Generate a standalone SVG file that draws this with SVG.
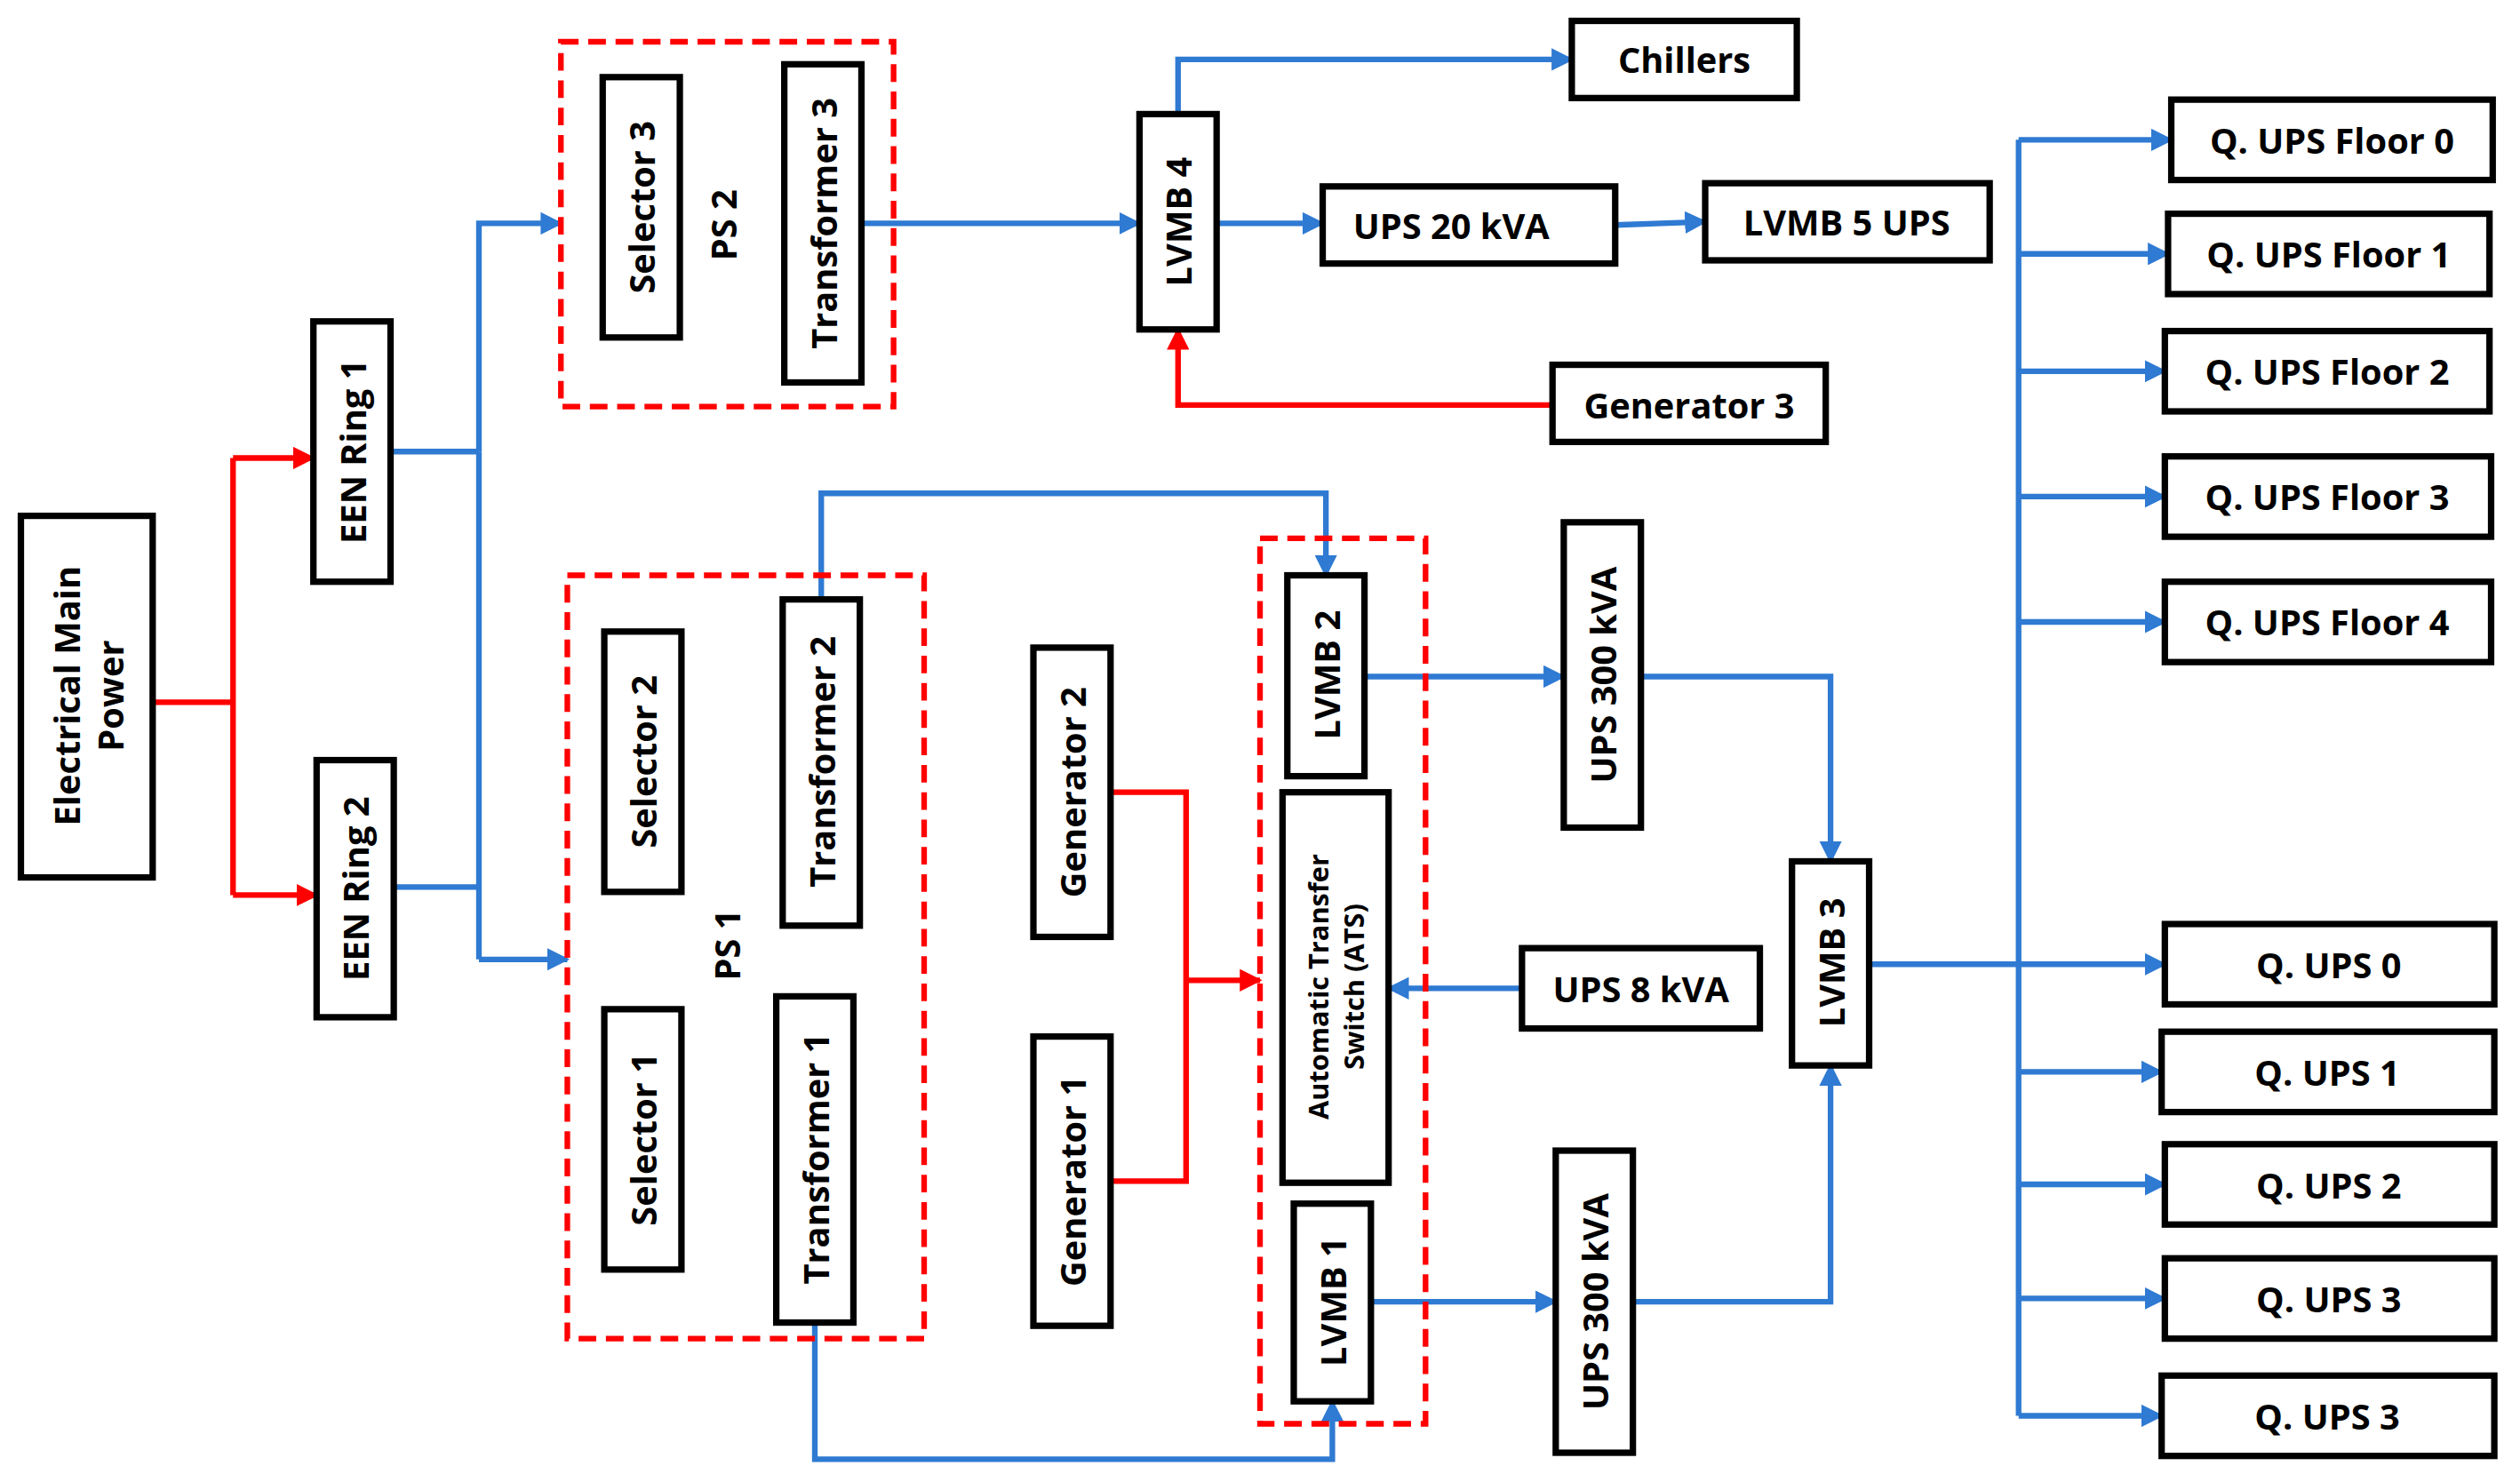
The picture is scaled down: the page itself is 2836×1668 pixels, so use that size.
<svg xmlns="http://www.w3.org/2000/svg" width="2836" height="1668" viewBox="0 0 2836 1668">
<style>
.b{fill:#fff;stroke:#000;stroke-width:4}
.d{fill:none;stroke:#f00;stroke-width:3.5;stroke-dasharray:11,6}
.t{font-family:"Open Sans","Liberation Sans",sans-serif;font-weight:bold;font-size:22px;fill:#000;text-anchor:middle;dominant-baseline:central}
.s{font-size:17px}
.bl{fill:none;stroke:#2f7ad2;stroke-width:3.5}
.rd{fill:none;stroke:#f00;stroke-width:3.5}
</style>
<defs>
<marker id="ab" viewBox="0 0 10 10" refX="9" refY="5" markerWidth="4" markerHeight="4" orient="auto"><path d="M0,0L10,5L0,10z" fill="#2f7ad2"/></marker>
<marker id="ar" viewBox="0 0 10 10" refX="9" refY="5" markerWidth="4" markerHeight="4" orient="auto"><path d="M0,0L10,5L0,10z" fill="#f00"/></marker>
</defs>
<rect width="2836" height="1668" fill="#fff"/>
<g transform="scale(1.8087)">
<g id="connectors">
<path class="rd" d="M95,437H145M145,285V557"/>
<path class="rd" d="M145,285H195" marker-end="url(#ar)"/>
<path class="rd" d="M145,557H197" marker-end="url(#ar)"/>
<path class="bl" d="M243,281H298M245,552H298M298,281V597"/>
<path class="bl" d="M298,281V139H349" marker-end="url(#ab)"/>
<path class="bl" d="M298,597H353" marker-end="url(#ab)"/>
<path class="bl" d="M536,139H709" marker-end="url(#ab)"/>
<path class="bl" d="M733,71V37H978" marker-end="url(#ab)"/>
<path class="bl" d="M757,139H823" marker-end="url(#ab)"/>
<path class="bl" d="M1005,140L1061,138" marker-end="url(#ab)"/>
<path class="rd" d="M966,252H733V205" marker-end="url(#ar)"/>
<path class="bl" d="M511,373V307H825V358" marker-end="url(#ab)"/>
<path class="bl" d="M849,421H973" marker-end="url(#ab)"/>
<path class="bl" d="M1021,421H1139V536" marker-end="url(#ab)"/>
<path class="rd" d="M691,493H738V735H691"/>
<path class="rd" d="M738,610H784" marker-end="url(#ar)"/>
<path class="bl" d="M947,615H864" marker-end="url(#ab)"/>
<path class="bl" d="M853,810H968" marker-end="url(#ab)"/>
<path class="bl" d="M1016,810H1139V663" marker-end="url(#ab)"/>
<path class="bl" d="M507,823V908H829V872" marker-end="url(#ab)"/>
<path class="bl" d="M1163,600H1256M1256,87V881"/>
<path class="bl" d="M1256,87H1351" marker-end="url(#ab)"/>
<path class="bl" d="M1256,158H1349" marker-end="url(#ab)"/>
<path class="bl" d="M1256,231H1347" marker-end="url(#ab)"/>
<path class="bl" d="M1256,309H1347" marker-end="url(#ab)"/>
<path class="bl" d="M1256,387H1347" marker-end="url(#ab)"/>
<path class="bl" d="M1256,600H1347" marker-end="url(#ab)"/>
<path class="bl" d="M1256,667H1345" marker-end="url(#ab)"/>
<path class="bl" d="M1256,737H1347" marker-end="url(#ab)"/>
<path class="bl" d="M1256,808H1347" marker-end="url(#ab)"/>
<path class="bl" d="M1256,881H1345" marker-end="url(#ab)"/>
</g>
<g id="ps2"><rect class="d" x="349" y="26" width="207" height="227"/><text class="t" transform="translate(450,140) rotate(-90)">PS 2</text></g>
<g id="ps1"><rect class="d" x="353" y="358" width="222" height="475"/><text class="t" transform="translate(452,588) rotate(-90)">PS 1</text></g>
<g id="atsgroup"><rect class="d" x="784" y="335" width="103" height="551"/></g>
<g id="emp"><rect class="b" x="13" y="321" width="82" height="225"/><text class="t" transform="translate(54,433) rotate(-90)"><tspan x="0" dy="-13">Electrical Main</tspan><tspan x="0" dy="27">Power</tspan></text></g>
<g id="een1"><rect class="b" x="195" y="200" width="48" height="162"/><text class="t" transform="translate(219,281) rotate(-90)">EEN Ring 1</text></g>
<g id="een2"><rect class="b" x="197" y="473" width="48" height="160"/><text class="t" transform="translate(221,553) rotate(-90)">EEN Ring 2</text></g>
<g id="sel3"><rect class="b" x="375" y="48" width="48" height="162"/><text class="t" transform="translate(399,129) rotate(-90)">Selector 3</text></g>
<g id="tr3"><rect class="b" x="488" y="40" width="48" height="198"/><text class="t" transform="translate(512,139) rotate(-90)">Transformer 3</text></g>
<g id="sel2"><rect class="b" x="376" y="393" width="48" height="162"/><text class="t" transform="translate(400,474) rotate(-90)">Selector 2</text></g>
<g id="tr2"><rect class="b" x="487" y="373" width="48" height="203"/><text class="t" transform="translate(511,474) rotate(-90)">Transformer 2</text></g>
<g id="sel1"><rect class="b" x="376" y="628" width="48" height="162"/><text class="t" transform="translate(400,709) rotate(-90)">Selector 1</text></g>
<g id="tr1"><rect class="b" x="483" y="620" width="48" height="203"/><text class="t" transform="translate(507,721) rotate(-90)">Transformer 1</text></g>
<g id="gen2"><rect class="b" x="643" y="403" width="48" height="180"/><text class="t" transform="translate(667,493) rotate(-90)">Generator 2</text></g>
<g id="gen1"><rect class="b" x="643" y="645" width="48" height="180"/><text class="t" transform="translate(667,735) rotate(-90)">Generator 1</text></g>
<g id="lvmb2"><rect class="b" x="801" y="358" width="48" height="125"/><text class="t" transform="translate(825,420) rotate(-90)">LVMB 2</text></g>
<g id="ats"><rect class="b" x="798" y="493" width="66" height="243"/><text class="t s" transform="translate(831,614) rotate(-90)"><tspan x="0" dy="-11">Automatic  Transfer</tspan><tspan x="0" dy="22">Switch  (ATS)</tspan></text></g>
<g id="lvmb1"><rect class="b" x="805" y="749" width="48" height="123"/><text class="t" transform="translate(829,810) rotate(-90)">LVMB 1</text></g>
<g id="lvmb4"><rect class="b" x="709" y="71" width="48" height="134"/><text class="t" transform="translate(733,138) rotate(-90)">LVMB 4</text></g>
<g id="chillers"><rect class="b" x="978" y="13" width="140" height="48"/><text class="t" x="1048" y="37">Chillers</text></g>
<g id="ups20"><rect class="b" x="823" y="116" width="182" height="48"/><text class="t" x="903" y="140">UPS 20 kVA</text></g>
<g id="lvmb5"><rect class="b" x="1061" y="114" width="177" height="48"/><text class="t" x="1149" y="138">LVMB 5 UPS</text></g>
<g id="gen3"><rect class="b" x="966" y="227" width="170" height="48"/><text class="t" x="1051" y="252">Generator 3</text></g>
<g id="ups300a"><rect class="b" x="973" y="325" width="48" height="190"/><text class="t" transform="translate(997,420) rotate(-90)">UPS 300 kVA</text></g>
<g id="ups8"><rect class="b" x="947" y="590" width="148" height="50"/><text class="t" x="1021" y="615">UPS 8 kVA</text></g>
<g id="ups300b"><rect class="b" x="968" y="716" width="48" height="188"/><text class="t" transform="translate(992,810) rotate(-90)">UPS 300 kVA</text></g>
<g id="lvmb3"><rect class="b" x="1115" y="536" width="48" height="127"/><text class="t" transform="translate(1139,599) rotate(-90)">LVMB 3</text></g>
<g id="qf0"><rect class="b" x="1351" y="62" width="200" height="50"/><text class="t" x="1451" y="87">Q. UPS Floor 0</text></g>
<g id="qf1"><rect class="b" x="1349" y="133" width="200" height="50"/><text class="t" x="1449" y="158">Q. UPS Floor 1</text></g>
<g id="qf2"><rect class="b" x="1347" y="206" width="202" height="50"/><text class="t" x="1448" y="231">Q. UPS Floor 2</text></g>
<g id="qf3"><rect class="b" x="1347" y="284" width="203" height="50"/><text class="t" x="1448" y="309">Q. UPS Floor 3</text></g>
<g id="qf4"><rect class="b" x="1347" y="362" width="203" height="50"/><text class="t" x="1448" y="387">Q. UPS Floor 4</text></g>
<g id="q0"><rect class="b" x="1347" y="575" width="205" height="50"/><text class="t" x="1449" y="600">Q. UPS 0</text></g>
<g id="q1"><rect class="b" x="1345" y="642" width="207" height="50"/><text class="t" x="1448" y="667">Q. UPS 1</text></g>
<g id="q2"><rect class="b" x="1347" y="712" width="205" height="50"/><text class="t" x="1449" y="737">Q. UPS 2</text></g>
<g id="q3a"><rect class="b" x="1347" y="783" width="205" height="50"/><text class="t" x="1449" y="808">Q. UPS 3</text></g>
<g id="q3b"><rect class="b" x="1345" y="856" width="207" height="50"/><text class="t" x="1448" y="881">Q. UPS 3</text></g>
</g>
</svg>
